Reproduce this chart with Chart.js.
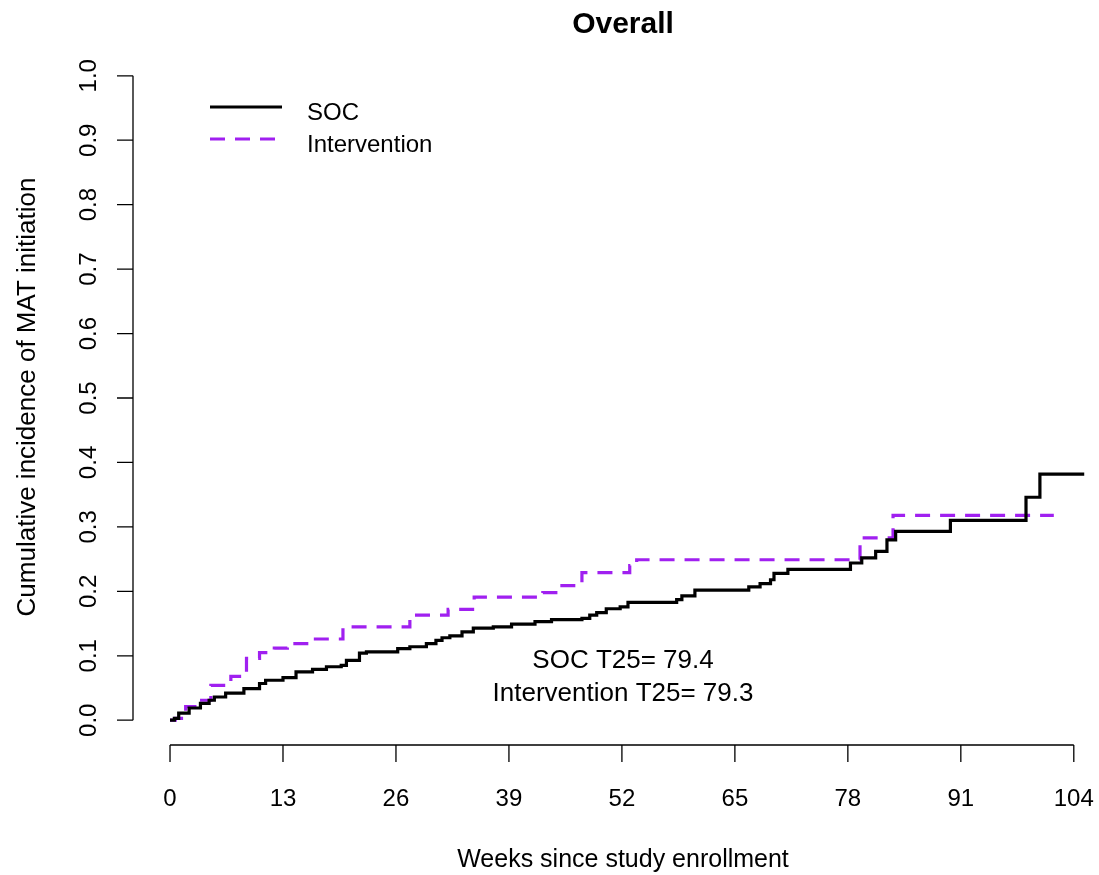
<!DOCTYPE html>
<html>
<head>
<meta charset="utf-8">
<title>Overall</title>
<script src="https://cdn.jsdelivr.net/npm/chart.js@4"></script>
<style>
    html, body { margin: 0; padding: 0; background: #ffffff; }
    canvas { display: block; }
</style>
</head>
<body>
<canvas id="chart" width="1099" height="875"></canvas>
<script>
// ---------- Data ----------

const socWeeks = [0, 0.5, 1.0, 2.2, 3.5, 4.5, 5.1, 6.4, 8.5, 10.3, 11.0, 13.0, 14.5, 16.4, 18.0, 19.7,
    20.3, 21.8, 22.6, 26.2, 27.6, 29.5, 30.6, 31.3, 32.2, 33.6, 34.9, 37.2, 39.3, 42.0, 43.9, 47.4,
    48.3, 49.1, 50.2, 51.8, 52.7, 58.3, 58.9, 60.4, 66.6, 67.9, 69.1, 69.5, 71.1, 78.3, 79.6, 81.2,
    82.5, 83.5, 89.8, 98.5, 100.1, 105.2];
const socIncidence = [0, 0.003, 0.011, 0.019, 0.026, 0.031, 0.036, 0.042, 0.049, 0.057, 0.062, 0.066, 0.075, 0.079, 0.083, 0.085,
    0.093, 0.104, 0.106, 0.111, 0.114, 0.119, 0.124, 0.128, 0.131, 0.137, 0.143, 0.145, 0.149, 0.153, 0.156, 0.158,
    0.163, 0.167, 0.173, 0.176, 0.183, 0.187, 0.193, 0.202, 0.207, 0.212, 0.218, 0.228, 0.234, 0.244, 0.252, 0.262,
    0.280, 0.293, 0.310, 0.346, 0.382, 0.382];

const intWeeks = [0, 0.6, 1.8, 3.3, 4.7, 7.0, 8.0, 8.8, 10.3, 12.0, 13.5, 16.0, 19.9, 27.6, 32.0, 35.0,
    42.9, 44.6, 47.4, 52.9, 53.7, 79.4, 83.2, 101.7];
const intIncidence = [0, 0.003, 0.021, 0.031, 0.054, 0.068, 0.075, 0.096, 0.105, 0.112, 0.119, 0.126, 0.145, 0.163, 0.172, 0.191,
    0.198, 0.209, 0.229, 0.240, 0.249, 0.283, 0.318, 0.318];

const xTicks = [0, 13, 26, 39, 52, 65, 78, 91, 104];
const yTicks = [0, 0.1, 0.2, 0.3, 0.4, 0.5, 0.6, 0.7, 0.8, 0.9, 1.0];
const yTickLabels = ['0.0', '0.1', '0.2', '0.3', '0.4', '0.5', '0.6', '0.7', '0.8', '0.9', '1.0'];

const seriesNames = ['SOC', 'Intervention'];
const t25Labels = ['SOC T25= 79.4', 'Intervention T25= 79.3'];

// ---------- Styles ----------

const SOC_COLOR = '#000000';
const INT_COLOR = '#a020f0';
const DASH = [15, 10];
const FONT = '"Liberation Sans", Arial, Helvetica, sans-serif';

function toPoints(xs, ys) {
    return xs.map((x, i) => ({ x, y: ys[i] }));
}

// ---------- R-style axes, title, legend, notes ----------

const baseGraphics = {
    id: 'baseGraphics',
    afterDraw(chart) {
        const ctx = chart.ctx;
        const xs = chart.scales.x;
        const ys = chart.scales.y;
        const centerX = 623;

        ctx.save();
        ctx.strokeStyle = '#000000';
        ctx.fillStyle = '#000000';
        ctx.lineWidth = 1.3;

        // x axis
        const axisY = 745;
        const x0 = xs.getPixelForValue(xTicks[0]);
        const x1 = xs.getPixelForValue(xTicks[xTicks.length - 1]);
        ctx.beginPath();
        ctx.moveTo(x0, axisY);
        ctx.lineTo(x1, axisY);
        xTicks.forEach(t => {
            const px = xs.getPixelForValue(t);
            ctx.moveTo(px, axisY);
            ctx.lineTo(px, axisY + 17);
        });
        ctx.stroke();

        ctx.font = '24px ' + FONT;
        ctx.textAlign = 'center';
        ctx.textBaseline = 'alphabetic';
        xTicks.forEach(t => {
            ctx.fillText(String(t), xs.getPixelForValue(t), 806);
        });

        // y axis
        const axisX = 133;
        const yTop = ys.getPixelForValue(yTicks[yTicks.length - 1]);
        const yBot = ys.getPixelForValue(yTicks[0]);
        ctx.beginPath();
        ctx.moveTo(axisX, yBot);
        ctx.lineTo(axisX, yTop);
        yTicks.forEach(t => {
            const py = ys.getPixelForValue(t);
            ctx.moveTo(axisX, py);
            ctx.lineTo(axisX - 16, py);
        });
        ctx.stroke();

        yTicks.forEach((t, i) => {
            ctx.save();
            ctx.translate(96, ys.getPixelForValue(t));
            ctx.rotate(-Math.PI / 2);
            ctx.fillText(yTickLabels[i], 0, 0);
            ctx.restore();
        });

        // axis titles
        ctx.font = '25px ' + FONT;
        ctx.fillText('Weeks since study enrollment', centerX, 867);
        ctx.font = '26px ' + FONT;
        ctx.save();
        ctx.translate(35, 397);
        ctx.rotate(-Math.PI / 2);
        ctx.fillText('Cumulative incidence of MAT initiation', 0, 0);
        ctx.restore();

        // main title
        ctx.font = 'bold 30px ' + FONT;
        ctx.fillText('Overall', centerX, 33);

        // legend
        ctx.lineWidth = 3.2;
        ctx.strokeStyle = SOC_COLOR;
        ctx.beginPath();
        ctx.moveTo(210, 107);
        ctx.lineTo(282, 107);
        ctx.stroke();
        ctx.strokeStyle = INT_COLOR;
        ctx.setLineDash(DASH);
        ctx.beginPath();
        ctx.moveTo(210, 139);
        ctx.lineTo(282, 139);
        ctx.stroke();
        ctx.setLineDash([]);

        ctx.font = '24px ' + FONT;
        ctx.textAlign = 'left';
        ctx.fillText(seriesNames[0], 307, 120);
        ctx.fillText(seriesNames[1], 307, 152);

        // T25 notes
        ctx.font = '26px ' + FONT;
        ctx.textAlign = 'center';
        ctx.fillText(t25Labels[0], centerX, 668);
        ctx.fillText(t25Labels[1], centerX, 701);

        ctx.restore();
    }
};

// ---------- Chart ----------

document.addEventListener('DOMContentLoaded', function () {
    const ctx = document.getElementById('chart').getContext('2d');
    new Chart(ctx, {
        type: 'line',
        data: {
            datasets: [
                {
                    label: seriesNames[0],
                    data: toPoints(socWeeks, socIncidence),
                    borderColor: SOC_COLOR,
                    borderWidth: 3.2,
                    stepped: 'before',
                    pointRadius: 0,
                    fill: false
                },
                {
                    label: seriesNames[1],
                    data: toPoints(intWeeks, intIncidence),
                    borderColor: INT_COLOR,
                    borderWidth: 3.2,
                    borderDash: DASH,
                    borderCapStyle: 'butt',
                    stepped: 'before',
                    pointRadius: 0,
                    fill: false
                }
            ]
        },
        options: {
            responsive: false,
            animation: false,
            layout: {
                padding: { left: 133, right: 0, top: 50, bottom: 129 }
            },
            scales: {
                x: { type: 'linear', display: false, min: -4.26, max: 106.9 },
                y: { type: 'linear', display: false, min: -0.04, max: 1.04 }
            },
            plugins: {
                legend: { display: false },
                tooltip: { enabled: false }
            }
        },
        plugins: [baseGraphics]
    });
});
</script>
</body>
</html>
